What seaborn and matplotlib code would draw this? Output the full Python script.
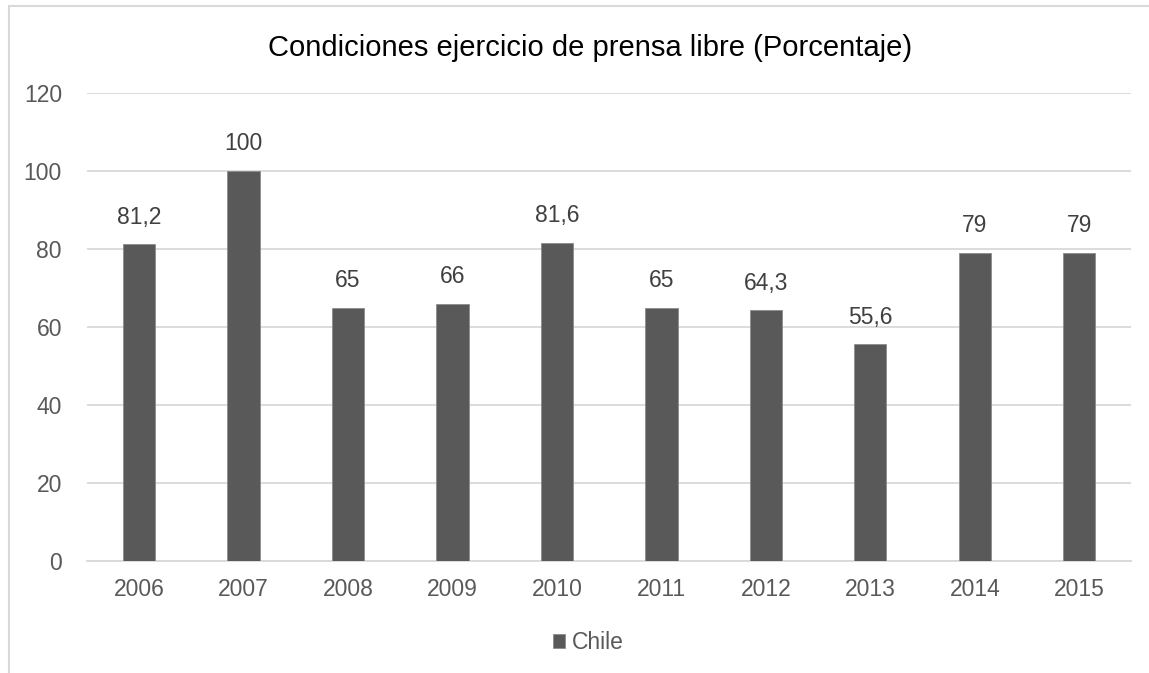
import matplotlib
matplotlib.use('Agg')
import matplotlib.pyplot as plt
import seaborn as sns
import pandas as pd

# dati
anni = ['2006', '2007', '2008', '2009', '2010', '2011', '2012', '2013', '2014', '2015']
valori = [81.2, 100, 65, 66, 81.6, 65, 64.3, 55.6, 79, 79]
etichette = ['81,2', '100', '65', '66', '81,6', '65', '64,3', '55,6', '79', '79']
serie = 'Chile'
titolo = 'Condiciones ejercicio de prensa libre (Porcentaje)'
yticks = [0, 20, 40, 60, 80, 100, 120]

df = pd.DataFrame({'anno': anni, 'valore': valori, 'serie': [serie] * len(anni)})

sns.set_style('white')
plt.rcParams['font.family'] = ['Liberation Sans', 'DejaVu Sans']

fig = plt.figure(figsize=(11.49, 6.73), dpi=100)
ax = fig.add_axes([0.0757, 0.1664, 0.909, 0.6954])

sns.barplot(data=df, x='anno', y='valore', hue='serie', palette=['#595959'],
            width=0.31, dodge=False, ax=ax, zorder=3,
            edgecolor='#8c8c8c', linewidth=0.6)

ax.set_ylim(0, 120)
ax.set_yticks(yticks)
ax.set_xlim(-0.5, len(anni) - 0.5)
ax.grid(axis='y', color='#D9D9D9', linewidth=1.3, zorder=0)
for s in ['top', 'right', 'left']:
    ax.spines[s].set_visible(False)
ax.spines['bottom'].set_color('#D9D9D9')
ax.spines['bottom'].set_linewidth(1.3)
ax.tick_params(axis='both', length=0, labelsize=16.5, labelcolor='#595959')
ax.tick_params(axis='x', pad=12)
ax.tick_params(axis='y', pad=18)
ax.set_xlabel('')
ax.set_ylabel('')

# etichette sulle barre
for i, (v, t) in enumerate(zip(valori, etichette)):
    ax.text(i, v + 4, t, ha='center', va='bottom', fontsize=16.5, color='#404040')

fig.text(0.5135, 0.928, titolo, ha='center', va='center', fontsize=21, color='black')

leg = ax.legend(loc='center', bbox_to_anchor=(0.48, -0.175), frameon=False,
                fontsize=16.5, handlelength=0.55, handleheight=0.55, handletextpad=0.3)
for t in leg.get_texts():
    t.set_color('#595959')

# bordo del grafico
fig.add_artist(plt.Line2D([0.0078, 0.0078], [0, 0.991], color='#D9D9D9', linewidth=1.5))
fig.add_artist(plt.Line2D([0.0078, 1], [0.991, 0.991], color='#D9D9D9', linewidth=1.5))

fig.savefig('out.png', dpi=100)
